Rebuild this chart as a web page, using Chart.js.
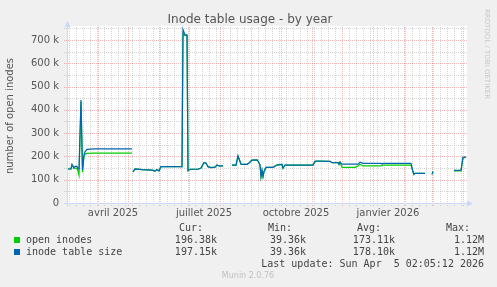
<!DOCTYPE html>
<html>
<head>
<meta charset="utf-8">
<script src="https://cdn.jsdelivr.net/npm/chart.js@4/dist/chart.umd.min.js"></script>
<style>
  html, body { margin: 0; padding: 0; background: #f0f0f0; }
  #wrap { width: 497px; height: 287px; }
</style>
</head>
<body>
<div id="wrap"><canvas id="chart" width="497" height="287"></canvas></div>
<script>
// days since 1 Mar 2025 (400 days up to the last update), values in thousands
const days = [
  0, 4, 5, 7, 8, 10, 11, 12, 14, 15.5, 17, 18, 20, 27, 65, 65.5,
  66, 68, 75, 85, 88, 90, 92, 94, 115, 116, 118, 120, 121, 123, 131, 134,
  137, 139, 141, 144, 148, 150, 152, 156, 157,
  165, 169, 171, 174, 176, 180, 182, 185, 190, 191, 193, 194, 195, 196, 197,
  199, 206, 210, 213, 215, 216, 218, 246, 248, 250, 263, 265, 271, 272, 273,
  275, 288, 291, 293, 296, 314, 315, 316, 344, 346, 347, 348, 358, 359,
  365, 366, 367, 387, 394, 396, 399
];
const openInodes = [
  146, 146, 164, 148, 150, 148, 138, 120, 435, 132, 200, 210, 213, 214, 214, null,
  134, 146, 143, 141, 137, 143, 138, 156, 156, 725, 720, 720, 138, 145, 145, 150,
  173, 172, 156, 152, 154, 163, 159, 159, null,
  163, 163, 202, 167, 166, 166, 172, 184, 185, 180, 163, 113, 140, 113, 135,
  153, 153, 163, 165, 166, 149, 163, 163, 176, 180, 179, 173, 173, 166, 176,
  153, 153, 159, 166, 159, 159, 161, 163, 163, 134, 123, 127, 127, null,
  123, 135, null, 138, 138, 195, 196
];
const tableSize = [
  146, 146, 166, 151, 157, 157, 146, 146, 442, 142, 206, 220, 230, 232, 232, null,
  134, 146, 143, 141, 137, 143, 138, 156, 156, 745, 722, 722, 140, 145, 145, 150,
  173, 172, 156, 152, 154, 163, 159, 159, null,
  163, 163, 202, 167, 166, 166, 172, 184, 185, 180, 163, 113, 140, 113, 135,
  153, 153, 163, 165, 166, 149, 163, 163, 180, 180, 179, 173, 173, 166, 176,
  167, 167, 167, 175, 170, 170, 167, 170, 170, 134, 123, 127, 127, null,
  123, 135, null, 140, 140, 196, 197
];

const yTicks = [0, 100, 200, 300, 400, 500, 600, 700];
const yMinor = [50, 150, 250, 350, 450, 550, 650, 750];
const monthStarts = [31, 61, 92, 122, 153, 184, 214, 245, 275, 306, 337, 365, 396];
const xLabelDays = [46, 137, 229, 321];
const xLabels = ["avril 2025", "juillet 2025", "octobre 2025", "janvier 2026"];

const seriesNames = ["open inodes", "inode table size"];
const seriesColors = ["#00cc00", "#0066b3"];
const curValues = ["196.38k", "197.15k"];
const minValues = ["39.36k", "39.36k"];
const avgValues = ["173.11k", "178.10k"];
const maxValues = ["1.12M", "1.12M"];

const FONT = '"DejaVu Sans", sans-serif';
const MONO = '"DejaVu Sans Mono", monospace';

const rrdPlugin = {
  id: "rrd",
  beforeDraw(chart) {
    const { ctx, chartArea: a } = chart;
    ctx.save();
    ctx.fillStyle = "#f0f0f0";
    ctx.fillRect(0, 0, chart.width, chart.height);
    ctx.fillStyle = "#ffffff";
    ctx.fillRect(a.left, a.top, a.right - a.left, a.bottom - a.top);
    ctx.restore();
  },
  beforeDatasetsDraw(chart) {
    const { ctx, chartArea: a, scales: { x, y } } = chart;
    ctx.save();
    ctx.lineWidth = 1;
    ctx.setLineDash([1, 1]);

    const vline = (d, color) => {
      const px = Math.round(x.getPixelForValue(d)) + 0.5;
      ctx.strokeStyle = color;
      ctx.beginPath();
      ctx.moveTo(px, a.bottom + 3);
      ctx.lineTo(px, a.top);
      ctx.stroke();
    };
    const hline = (v, color) => {
      const py = Math.round(y.getPixelForValue(v)) + 0.5;
      ctx.strokeStyle = color;
      ctx.beginPath();
      ctx.moveTo(a.left - 3, py);
      ctx.lineTo(a.right, py);
      ctx.stroke();
    };

    // minor grid: mondays and half steps
    const minor = "rgba(150, 150, 150, 0.4)";
    for (let d = 2; d < 400; d += 7) {
      if (!monthStarts.includes(d)) vline(d, minor);
    }
    yMinor.forEach((v) => hline(v, minor));

    // major grid: months and 100 k
    const major = "rgba(225, 80, 80, 0.42)";
    monthStarts.forEach((d) => vline(d, major));
    yTicks.filter((v) => v > 0).forEach((v) => hline(v, major));
    ctx.restore();
  },
  afterDatasetsDraw(chart) {
    const { ctx, chartArea: a } = chart;
    ctx.save();
    ctx.strokeStyle = "#cfd6f8";
    ctx.fillStyle = "#cfd6f8";
    ctx.lineWidth = 1;
    // axes
    ctx.beginPath();
    ctx.moveTo(a.left + 0.5, a.bottom + 3);
    ctx.lineTo(a.left + 0.5, a.top);
    ctx.moveTo(a.left - 3, a.bottom + 0.5);
    ctx.lineTo(a.right + 1, a.bottom + 0.5);
    ctx.stroke();
    // arrows
    ctx.beginPath();
    ctx.moveTo(a.left + 0.5, a.top - 5);
    ctx.lineTo(a.left - 2.5, a.top + 1);
    ctx.lineTo(a.left + 3.5, a.top + 1);
    ctx.closePath();
    ctx.fill();
    ctx.beginPath();
    ctx.moveTo(a.right + 6, a.bottom + 0.5);
    ctx.lineTo(a.right, a.bottom - 2.5);
    ctx.lineTo(a.right, a.bottom + 3.5);
    ctx.closePath();
    ctx.fill();
    ctx.restore();
  },
  afterDraw(chart) {
    const { ctx } = chart;
    ctx.save();
    // title
    ctx.fillStyle = "#555";
    ctx.font = "12px " + FONT;
    ctx.textAlign = "center";
    ctx.textBaseline = "alphabetic";
    ctx.fillText("Inode table usage - by year", 250, 23);

    // vertical axis title
    ctx.save();
    ctx.translate(10, 116);
    ctx.rotate(-Math.PI / 2);
    ctx.font = "10px " + FONT;
    ctx.textBaseline = "middle";
    ctx.fillText("number of open inodes", 0, 0);
    ctx.restore();

    // rrdtool credit
    ctx.save();
    ctx.translate(487, 54);
    ctx.rotate(Math.PI / 2);
    ctx.fillStyle = "#c8c8c8";
    ctx.font = "7px " + FONT;
    ctx.textBaseline = "middle";
    ctx.fillText("RRDTOOL / TOBI OETIKER", 0, 0);
    ctx.restore();

    // legend
    ctx.font = "10px " + MONO;
    ctx.fillStyle = "#444";
    ctx.textBaseline = "middle";
    ctx.textAlign = "right";
    ctx.fillText("Cur:", 203, 228);
    ctx.fillText("Min:", 292, 228);
    ctx.fillText("Avg:", 381, 228);
    ctx.fillText("Max:", 470, 228);
    seriesNames.forEach((name, i) => {
      const ty = 240 + i * 12;
      ctx.fillStyle = seriesColors[i];
      ctx.fillRect(14, ty - 3, 6, 6);
      ctx.fillStyle = "#444";
      ctx.textAlign = "left";
      ctx.fillText(name, 26, ty);
      ctx.textAlign = "right";
      ctx.fillText(curValues[i], 217, ty);
      ctx.fillText(minValues[i], 306, ty);
      ctx.fillText(avgValues[i], 395, ty);
      ctx.fillText(maxValues[i], 484, ty);
    });
    ctx.fillText("Last update: Sun Apr  5 02:05:12 2026", 484, 264);

    ctx.textAlign = "center";
    ctx.fillStyle = "#c0c0c0";
    ctx.font = "8px " + FONT;
    ctx.fillText("Munin 2.0.76", 248, 276);
    ctx.restore();
  },
};

const toPoints = (values) => days.map((d, i) => ({ x: d, y: values[i] }));

new Chart(document.getElementById("chart"), {
  type: "line",
  data: {
    datasets: [
      {
        label: seriesNames[0],
        data: toPoints(openInodes),
        borderColor: seriesColors[0],
        borderWidth: 1.2,
        pointRadius: 0,
        spanGaps: false,
        order: 2,
      },
      {
        label: seriesNames[1],
        data: toPoints(tableSize),
        borderColor: seriesColors[1],
        borderWidth: 1.2,
        pointRadius: 0,
        spanGaps: false,
        order: 1,
      },
    ],
  },
  options: {
    responsive: false,
    animation: false,
    devicePixelRatio: 1,
    layout: { padding: { left: 0, right: 30, top: 26, bottom: 64 } },
    plugins: {
      legend: { display: false },
      title: { display: false },
      tooltip: { enabled: false },
    },
    scales: {
      x: {
        type: "linear",
        min: 0,
        max: 400,
        grid: { display: false, drawTicks: false },
        border: { display: false },
        afterBuildTicks: (scale) => {
          scale.ticks = xLabelDays.map((v) => ({ value: v }));
        },
        afterFit: (scale) => {
          scale.height = 20;
        },
        ticks: {
          autoSkip: false,
          maxRotation: 0,
          padding: 4,
          color: "#555",
          font: { family: FONT, size: 10 },
          callback: (v) => xLabels[xLabelDays.indexOf(v)],
        },
      },
      y: {
        min: 0,
        max: 760,
        grid: { display: false, drawTicks: false },
        border: { display: false },
        afterBuildTicks: (scale) => {
          scale.ticks = yTicks.map((v) => ({ value: v }));
        },
        afterFit: (scale) => {
          scale.width = 67;
        },
        ticks: {
          padding: 8,
          color: "#555",
          font: { family: FONT, size: 10 },
          callback: (v) => (v === 0 ? "0" : v + " k"),
        },
      },
    },
  },
  plugins: [rrdPlugin],
});
</script>
</body>
</html>
